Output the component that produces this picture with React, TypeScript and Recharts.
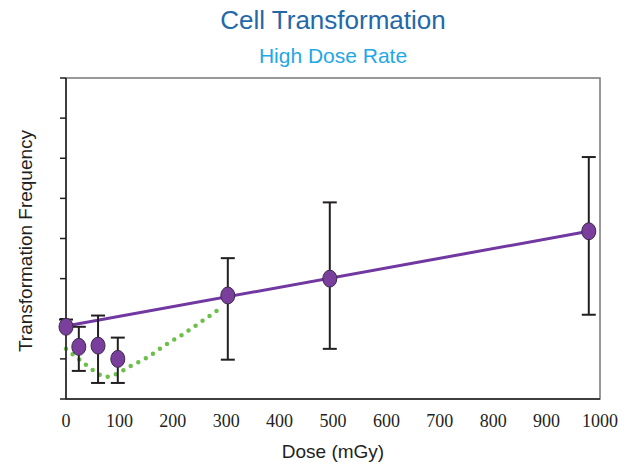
import React from "react"
import {
  ComposedChart,
  XAxis,
  YAxis,
  Line,
  Scatter,
  ErrorBar,
  ReferenceArea,
  Label,
} from "recharts"

// measured points (dose in mGy, frequency in arbitrary axis units)
const doses = [0, 24, 60, 97, 303, 494, 979]
const freq = [1.8, 1.3, 1.33, 1.0, 2.58, 3.0, 4.18]
const errLow = [0, 0.6, 0.93, 0.6, 1.6, 1.75, 2.08]
const errHigh = [0.18, 0.5, 0.75, 0.53, 0.93, 1.9, 1.85]

// linear fit through the points
const fitDoses = [0, 979]
const fitFreq = [1.82, 4.18]

// low-dose dotted curve
const curveDoses = [0, 28, 58, 73, 90, 122, 154, 184, 215, 245, 288]
const curveFreq = [1.25, 0.95, 0.65, 0.55, 0.6, 0.83, 1.05, 1.33, 1.58, 1.85, 2.25]

const xTicks = [0, 100, 200, 300, 400, 500, 600, 700, 800, 900, 1000]
const yTicks = [0, 1, 2, 3, 4, 5, 6, 7, 8]

const points = doses.map((d, i) => ({ dose: d, y: freq[i], err: [errLow[i], errHigh[i]] }))
const fit = fitDoses.map((d, i) => ({ dose: d, y: fitFreq[i] }))
const curve = curveDoses.map((d, i) => ({ dose: d, y: curveFreq[i] }))

const SANS = "'Liberation Sans', Arial, sans-serif"
const SERIF = "'Liberation Serif', 'Times New Roman', serif"

const Dot = (props: any) => {
  const { cx, cy } = props
  if (cx == null || cy == null) return null
  return <ellipse cx={cx} cy={cy} rx={7} ry={8.5} fill="#7a3f9c" stroke="#3b2a48" strokeWidth={1} />
}

export default function App() {
  return (
    <div style={{ position: "relative", width: 629, height: 464, background: "#fff" }}>
      <style>{"body{margin:0}"}</style>
      <div
        style={{
          position: "absolute",
          top: 5,
          left: 0,
          width: 666,
          textAlign: "center",
          fontFamily: SANS,
          fontSize: 26,
          color: "#2468a8",
        }}
      >
        Cell Transformation
      </div>
      <div
        style={{
          position: "absolute",
          top: 44,
          left: 0,
          width: 666,
          textAlign: "center",
          fontFamily: SANS,
          fontSize: 21,
          color: "#1ea8e6",
        }}
      >
        High Dose Rate
      </div>
      <ComposedChart
        width={629}
        height={464}
        margin={{ top: 78, right: 29, bottom: 0, left: 0 }}
        style={{ position: "absolute", top: 0, left: 0 }}
      >
        <ReferenceArea x1={0} x2={1000} y1={0} y2={8} fill="none" stroke="#777" strokeWidth={1.5} ifOverflow="visible" />
        <XAxis
          type="number"
          dataKey="dose"
          domain={[0, 1000]}
          ticks={xTicks}
          interval={0}
          height={65}
          tickLine={false}
          tickSize={6}
          tickMargin={9}
          axisLine={{ stroke: "#231f20", strokeWidth: 1.5 }}
          tick={{ fill: "#231f20", fontFamily: SERIF, fontSize: 18 }}
        >
          <Label
            content={() => (
              <text x={333} y={451} textAnchor="middle" dominantBaseline="central" fontFamily={SANS} fontSize={19} fill="#231f20">
                Dose (mGy)
              </text>
            )}
          />
        </XAxis>
        <YAxis
          type="number"
          domain={[0, 8]}
          ticks={yTicks}
          width={66}
          tickSize={6}
          tickFormatter={() => ""}
          tickLine={{ stroke: "#231f20", strokeWidth: 1.5 }}
          axisLine={{ stroke: "#231f20", strokeWidth: 1.5 }}
        >
          <Label
            content={() => (
              <text
                x={25}
                y={241}
                transform="rotate(-90, 25, 241)"
                textAnchor="middle"
                dominantBaseline="central"
                fontFamily={SANS}
                fontSize={19}
                fill="#231f20"
              >
                Transformation Frequency
              </text>
            )}
          />
        </YAxis>
        <Line
          data={curve}
          dataKey="y"
          type="monotone"
          stroke="#6cc04a"
          strokeWidth={4.5}
          strokeDasharray="0 8.5"
          strokeLinecap="round"
          dot={false}
          activeDot={false}
          isAnimationActive={false}
        />
        <Line
          data={fit}
          dataKey="y"
          type="linear"
          stroke="#7038a0"
          strokeWidth={3}
          dot={false}
          activeDot={false}
          isAnimationActive={false}
        />
        <Scatter data={points} dataKey="y" shape={<Dot />} isAnimationActive={false}>
          <ErrorBar dataKey="err" direction="y" width={7} stroke="#231f20" strokeWidth={2} />
        </Scatter>
      </ComposedChart>
    </div>
  )
}
